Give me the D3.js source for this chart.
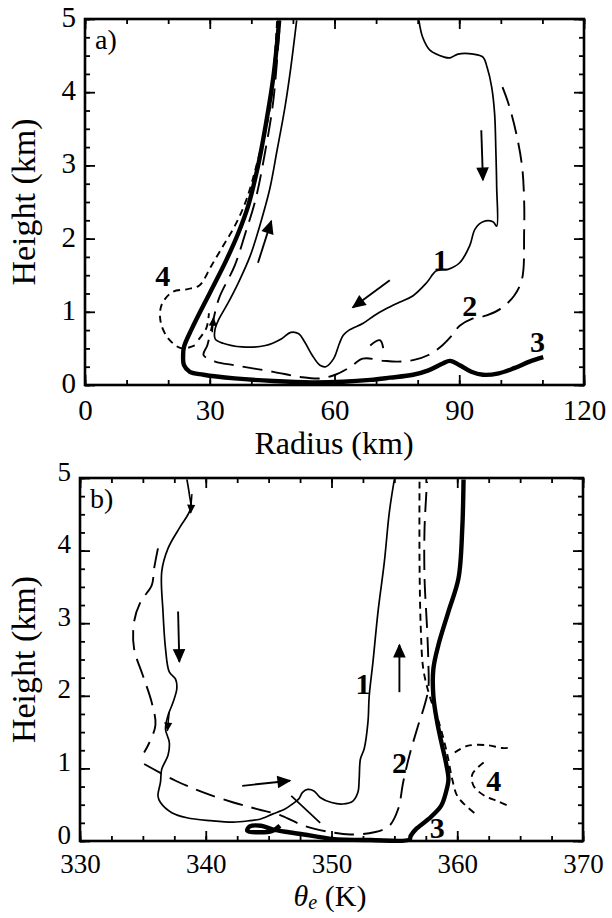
<!DOCTYPE html>
<html>
<head>
<meta charset="utf-8">
<script src="https://cdn.jsdelivr.net/npm/d3@7"></script>
<style>
  body { margin: 0; background: #fff; }
  svg, svg text { font-family: "Liberation Serif", "DejaVu Serif", serif !important; }
</style>
</head>
<body>
<div id="chart"></div>
<script>
// ---- data ----
// panel a: radius (km) vs height (km)
const radiusTicks = [0, 30, 60, 90, 120];
const heightTicks = [0, 1, 2, 3, 4, 5];

const trajA1 = [[80.3,4.98],[81.2,4.75],[83,4.57],[86.4,4.48],[87.8,4.47],[89.7,4.52],[93.4,4.52],[95.7,4.48],[96.7,4.34],[97.8,4.07],[98.5,3.71],[98.8,3.21],[99,2.71],[99,2.17],[98.1,2.23],[95.7,2.23],[93.8,2.13],[92.5,1.90],[90.1,1.67],[87.3,1.58],[84.5,1.56],[82.2,1.40],[78.9,1.22],[75.6,1.13],[72.4,1.04],[69.6,0.95],[66.8,0.84],[63.5,0.75],[62.1,0.68],[61.2,0.57],[59.8,0.36],[57.9,0.25],[56.5,0.27],[54.6,0.41],[52.8,0.59],[51.4,0.70],[49.5,0.72],[47.2,0.63],[43.4,0.54],[37.8,0.52],[33.2,0.57],[31.3,0.63],[31.3,0.77],[32.2,0.90],[34.1,1.09],[36.9,1.40],[39.7,1.76],[42,2.17],[44.4,2.67],[46.2,3.21],[48.1,3.80],[49.5,4.34],[50.9,4.98]];
const trajA2 = [[100.4,4.07],[101.8,3.85],[103.7,3.44],[105.1,2.99],[105.6,2.53],[105.6,2.08],[105.1,1.45],[103.2,1.22],[99.9,1.04],[96.6,0.95],[92.9,0.90],[90.1,0.81],[88.3,0.68],[85.9,0.54],[82.6,0.41],[78.9,0.34],[75.2,0.32],[71.9,0.33],[66.8,0.36],[63.9,0.25],[60.2,0.14],[56.5,0.09],[51.8,0.11],[45.3,0.18],[36,0.27],[31.3,0.32],[28.5,0.41],[29.4,0.54],[30.4,0.77],[32.2,1.18],[36,1.63],[38.6,2.08],[41,2.53],[43.4,3.21],[45.3,3.89],[46.9,4.98]];
const trajA2b = [[68.6,0.54],[71,0.61],[72,0.38]];
const trajA3 = [[110.2,0.38],[106.9,0.32],[103.2,0.23],[99.5,0.16],[95.7,0.14],[92.9,0.18],[90.1,0.27],[87.8,0.33],[85.9,0.29],[82.6,0.20],[78.9,0.14],[73.3,0.10],[68.6,0.07],[62.1,0.045],[54.6,0.036],[45.3,0.054],[36,0.09],[28.5,0.14],[25.2,0.18],[23.8,0.27],[23.6,0.41],[23.8,0.52],[25.7,0.77],[28.5,1.09],[31.3,1.40],[34.1,1.72],[36.9,2.08],[39.2,2.44],[41.6,2.99],[43.4,3.53],[45.3,4.21],[46.7,4.98]];
const trajA4 = [[26.4,0.54],[23.3,0.50],[20.1,0.63],[18.2,0.86],[18.4,1.09],[21,1.27],[24.7,1.31],[27.5,1.36],[30.4,1.63],[33.2,1.90],[36,2.17],[38.8,2.53],[41.6,3.08],[44.4,3.76],[46.2,4.98]];
const trajA4b = [[27.3,0.62],[29.2,0.78],[29.8,0.98]];
const arrowsA = [[[95.3,3.48],[95.7,2.8]], [[73.3,1.43],[64.4,1.06]], [[41.6,1.67],[44.8,2.24]]];
const smallArrowsA = [[[30.6,0.72],[30.9,0.92]]];
const labelsA = [["1",85.5,1.72],["2",92.5,1.09],["3",108.8,0.59],["4",18.7,1.49]];

// panel b: theta-e (K) vs height (km)
const thetaTicks = [330, 340, 350, 360, 370];

const trajB1 = [[355,4.98],[354.6,4.53],[354.2,3.84],[353.7,3.16],[353.3,2.47],[353.0,2.0],[352.9,1.64],[352.6,1.27],[352.3,1.13],[352.2,0.85],[352.1,0.67],[351.7,0.55],[350.9,0.51],[350,0.53],[349.1,0.60],[348.6,0.69],[348.1,0.71],[347.7,0.67],[347.4,0.58],[346.9,0.51],[346.3,0.44],[345.3,0.37],[344.3,0.30],[343.5,0.28],[342.2,0.26],[340.4,0.28],[338.5,0.32],[337.3,0.39],[336.4,0.53],[336.2,0.62],[336.4,0.81],[336.5,0.99],[337,1.18],[337.1,1.36],[336.8,1.54],[337,1.73],[337.4,1.91],[337.7,2.10],[337.6,2.23],[337.1,2.33],[336.8,2.65],[336.6,3.16],[336.5,3.71],[337,4.03],[337.9,4.31],[338.8,4.58],[338.7,4.77],[338.5,4.98]];
const trajB2 = [[336.2,4.03],[335.9,3.76],[335.7,3.52],[334.8,3.29],[334.3,3.02],[334.3,2.65],[335,2.28],[335.7,1.91],[336,1.6],[335.5,1.35],[335.1,1.22]];
const trajB2b = [[335.1,1.06],[337.6,0.83],[339.8,0.67],[342.2,0.53],[344.1,0.44],[346,0.35],[347.8,0.21],[350,0.12],[351.5,0.09],[353.4,0.12],[354.6,0.21],[355.3,0.44],[355.7,0.81],[356.2,1.18],[356.8,1.54],[357.4,1.87],[357.7,2.10],[357.7,2.47],[357.6,2.93],[357.4,3.62],[357.4,4.31],[357.6,4.95]];
const trajB3 = [[360.5,4.98],[360.4,4.31],[360.1,3.62],[359.3,3.16],[358.5,2.70],[358.1,2.37],[358.1,2.0],[358.4,1.64],[358.8,1.31],[359.1,1.08],[359.3,0.85],[359.1,0.67],[358.7,0.48],[357.7,0.30],[356.7,0.16],[356.3,0.07],[356.2,0.02],[353.1,0.014],[350,0.03],[347.8,0.09],[346.6,0.12],[345.3,0.16],[344.4,0.21],[343.5,0.2],[343.3,0.14],[344.1,0.12],[345.3,0.14],[345.9,0.21]];
const trajB4 = [[357.0,4.95],[357.0,3.84],[357.1,2.93],[357.3,2.37],[357.8,2.0],[358.6,1.6],[359.2,1.2],[359.6,0.85],[360,0.62],[360.6,0.50],[361.4,0.38]];
const trajB4b = [[359.8,1.22],[360.8,1.31],[362.4,1.32],[363.6,1.28],[364.3,1.29]];
const trajB4c = [[362.1,1.08],[361.2,0.92],[361.3,0.76],[362.2,0.62],[363.2,0.55],[364.1,0.48]];
const trajBx = [[346.8,0.62],[349.1,0.25]];
const arrowsB = [[[337.8,3.16],[337.9,2.47]], [[342.9,0.76],[346.7,0.83]], [[355.4,2.05],[355.4,2.70]]];
const smallArrowsB = [[[338.9,4.78],[338.8,4.52]], [[337.1,1.78],[336.95,1.52]]];
const labelsB = [["1",352.5,2.17],["2",355.4,1.08],["3",358.4,0.18],["4",362.9,0.83]];

// line styles for the four trajectories
const styles = {
  thin:  { width: 1.7, dash: null },
  long:  { width: 1.9, dash: "20,9" },
  thick: { width: 4.4, dash: null },
  short: { width: 1.9, dash: "7,5" }
};

const svg = d3.select("#chart").append("svg")
  .attr("width", 612)
  .attr("height", 918);

const defs = svg.append("defs");
[["head", 16, 14], ["headSmall", 10, 9]].forEach(([id, w, h]) => {
  defs.append("marker")
    .attr("id", id)
    .attr("viewBox", "0 -5 10 10")
    .attr("refX", 9).attr("refY", 0)
    .attr("markerUnits", "userSpaceOnUse")
    .attr("markerWidth", w).attr("markerHeight", h)
    .attr("orient", "auto")
    .append("path").attr("d", "M0,-4.5L10,0L0,4.5Z").attr("fill", "#000");
});

function drawPanel(p) {
  const x = d3.scaleLinear().domain(p.xDomain).range([p.left, p.right]);
  const y = d3.scaleLinear().domain([0, 5]).range([p.bottom, p.top]);
  const g = svg.append("g");

  const yMinor = d3.range(0, 5.01, 0.25);
  const xMinor = d3.range(p.xDomain[0], p.xDomain[1] + 0.01, p.xMinorStep);

  // minor ticks on all four sides
  g.append("g").attr("transform", `translate(0,${p.bottom})`).call(d3.axisBottom(x).tickValues(xMinor).tickSize(-5).tickFormat(""));
  g.append("g").attr("transform", `translate(0,${p.top})`).call(d3.axisTop(x).tickValues(xMinor).tickSize(-5).tickFormat(""));
  g.append("g").attr("transform", `translate(${p.left},0)`).call(d3.axisLeft(y).tickValues(yMinor).tickSize(-5).tickFormat(""));
  g.append("g").attr("transform", `translate(${p.right},0)`).call(d3.axisRight(y).tickValues(yMinor).tickSize(-5).tickFormat(""));

  // major ticks + labels
  g.append("g").attr("class", "lab").attr("transform", `translate(0,${p.bottom})`)
    .call(d3.axisBottom(x).tickValues(p.xTicks).tickSize(-10).tickPadding(p.xPad).tickFormat(d3.format("d")));
  g.append("g").attr("transform", `translate(0,${p.top})`).call(d3.axisTop(x).tickValues(p.xTicks).tickSize(-10).tickFormat(""));
  g.append("g").attr("class", "lab ylab").attr("transform", `translate(${p.left},0)`)
    .call(d3.axisLeft(y).tickValues(heightTicks).tickSize(-10).tickPadding(9).tickFormat(d3.format("d")));
  g.append("g").attr("transform", `translate(${p.right},0)`).call(d3.axisRight(y).tickValues(heightTicks).tickSize(-10).tickFormat(""));

  g.selectAll(".domain").remove();
  g.selectAll("g").attr("font-family", null);
  g.selectAll(".tick line").attr("stroke", "#000").attr("stroke-width", 1.8);
  g.selectAll(".lab text").attr("font-size", p.tickFont).attr("fill", "#000");
  g.selectAll(".ylab text").attr("dy", p.yDy);

  g.append("rect")
    .attr("x", p.left).attr("y", p.top)
    .attr("width", p.right - p.left).attr("height", p.bottom - p.top)
    .attr("fill", "none").attr("stroke", "#000").attr("stroke-width", 2.6);

  const line = d3.line().x(d => x(d[0])).y(d => y(d[1])).curve(d3.curveCatmullRom.alpha(0.5));

  for (const c of p.curves) {
    const s = styles[c.style];
    g.append("path").datum(c.data)
      .attr("d", line)
      .attr("fill", "none").attr("stroke", "#000")
      .attr("stroke-width", s.width)
      .attr("stroke-linejoin", "round")
      .attr("stroke-dasharray", s.dash);
  }

  const drawArrows = (list, marker, w) => {
    for (const a of list) {
      g.append("line")
        .attr("x1", x(a[0][0])).attr("y1", y(a[0][1]))
        .attr("x2", x(a[1][0])).attr("y2", y(a[1][1]))
        .attr("stroke", "#000").attr("stroke-width", w)
        .attr("marker-end", `url(#${marker})`);
    }
  };
  drawArrows(p.arrows, "head", 1.9);
  drawArrows(p.smallArrows, "headSmall", 1.4);

  g.selectAll(".num").data(p.labels).join("text")
    .attr("x", d => x(d[1])).attr("y", d => y(d[2]))
    .attr("text-anchor", "middle").attr("dominant-baseline", "central")
    .attr("font-size", 30).attr("font-weight", "bold")
    .text(d => d[0]);

  g.append("text")
    .attr("x", p.left + 10).attr("y", p.top + 30)
    .attr("font-size", 28)
    .text(p.tag);

  g.append("text")
    .attr("transform", `translate(35,${(p.top + p.bottom) / 2}) rotate(-90)`)
    .attr("text-anchor", "middle")
    .attr("font-size", 34)
    .text("Height (km)");

  return { g, x, y };
}

drawPanel({
  left: 85, right: 584, top: 19, bottom: 385,
  xDomain: [0, 120], xTicks: radiusTicks, xMinorStep: 10, tickFont: 29,
  xPad: 14, yDy: "0.26em",
  tag: "a)",
  curves: [
    { data: trajA1, style: "thin" },
    { data: trajA2, style: "long" },
    { data: trajA2b, style: "long" },
    { data: trajA3, style: "thick" },
    { data: trajA4, style: "short" },
    { data: trajA4b, style: "short" }
  ],
  arrows: arrowsA,
  smallArrows: smallArrowsA,
  labels: labelsA
});

svg.append("text")
  .attr("x", 334).attr("y", 454)
  .attr("text-anchor", "middle").attr("font-size", 32)
  .text("Radius (km)");

drawPanel({
  left: 80, right: 583, top: 478, bottom: 841,
  xDomain: [330, 370], xTicks: thetaTicks, xMinorStep: 2.5, tickFont: 27,
  xPad: 13, yDy: "0.08em",
  tag: "b)",
  curves: [
    { data: trajB1, style: "thin" },
    { data: trajB2, style: "long" },
    { data: trajB2b, style: "long" },
    { data: trajB3, style: "thick" },
    { data: trajB4, style: "short" },
    { data: trajB4b, style: "short" },
    { data: trajB4c, style: "short" },
    { data: trajBx, style: "thin" }
  ],
  arrows: arrowsB,
  smallArrows: smallArrowsB,
  labels: labelsB
});

const xt = svg.append("text")
  .attr("x", 330).attr("y", 906)
  .attr("text-anchor", "middle").attr("font-size", 30);
xt.append("tspan").attr("font-style", "italic").text("θ");
xt.append("tspan").attr("font-style", "italic").attr("font-size", 20).attr("dy", 3).text("e");
xt.append("tspan").attr("dy", -3).text(" (K)");
</script>
</body>
</html>
